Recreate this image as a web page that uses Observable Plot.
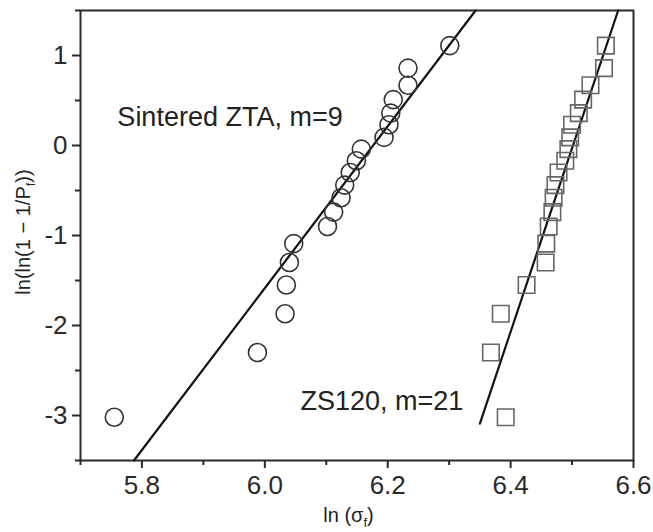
<!DOCTYPE html>
<html>
<head>
<meta charset="utf-8">
<script src="https://cdn.jsdelivr.net/npm/d3@7"></script>
<script src="https://cdn.jsdelivr.net/npm/@observablehq/plot@0.6"></script>
<style>
  html, body { margin: 0; padding: 0; background: #ffffff; }
  #chart svg { font-family: "Liberation Sans", Arial, sans-serif; }
</style>
</head>
<body>
<div id="chart"></div>
<script>
// Sintered ZTA (circles)
const ztaX = [5.755, 5.988, 6.033, 6.035, 6.040, 6.047, 6.102, 6.112, 6.124, 6.130, 6.139, 6.149, 6.157, 6.194, 6.202, 6.205, 6.209, 6.233, 6.233, 6.301];
const ztaY = [-3.02, -2.30, -1.87, -1.55, -1.30, -1.09, -0.90, -0.74, -0.58, -0.44, -0.30, -0.17, -0.04, 0.09, 0.23, 0.36, 0.51, 0.67, 0.86, 1.11];
// ZS120 (squares)
const zsX = [6.392, 6.368, 6.384, 6.426, 6.457, 6.458, 6.462, 6.468, 6.470, 6.473, 6.478, 6.489, 6.494, 6.497, 6.500, 6.511, 6.518, 6.530, 6.552, 6.555];
const zsY = [-3.02, -2.30, -1.87, -1.55, -1.30, -1.09, -0.90, -0.74, -0.58, -0.44, -0.30, -0.17, -0.04, 0.09, 0.23, 0.36, 0.51, 0.67, 0.86, 1.11];
// Weibull fit lines
const fitZtaX = [5.787, 6.343];
const fitZtaY = [-3.5, 1.5];
const fitZsX = [6.350, 6.575];
const fitZsY = [-3.09, 1.5];
// Annotations
const noteText = ["Sintered ZTA, m=9", "ZS120, m=21"];
const noteX = [5.760, 6.058];
const noteY = [0.31, -2.84];
// Ticks
const xMajor = [5.8, 6.0, 6.2, 6.4, 6.6];
const xMinor = [5.7, 5.9, 6.1, 6.3, 6.5];
const yMajor = [-3, -2, -1, 0, 1];
const yMinor = [-3.5, -2.5, -1.5, -0.5, 0.5, 1.5];

const zta = ztaX.map((x, i) => ({x, y: ztaY[i]}));
const zs = zsX.map((x, i) => ({x, y: zsY[i]}));
const fitA = fitZtaX.map((x, i) => ({x, y: fitZtaY[i]}));
const fitB = fitZsX.map((x, i) => ({x, y: fitZsY[i]}));
const notes = noteText.map((t, i) => ({t, x: noteX[i], y: noteY[i]}));

const ink = "#2a2a2a";
const svg = Plot.plot({
  width: 653,
  height: 532,
  marginLeft: 80,
  marginRight: 20,
  marginTop: 10,
  marginBottom: 72,
  style: {background: "#ffffff", color: ink, fontFamily: "Liberation Sans, Arial, sans-serif"},
  x: {domain: [5.7, 6.6]},
  y: {domain: [-3.5, 1.5]},
  marks: [
    Plot.axisX(xMajor, {tickSize: 8, tickPadding: 7, fontSize: 26, tickFormat: d3.format(".1f"), label: null, strokeWidth: 2}),
    Plot.axisX(xMinor, {tickSize: 5, tickFormat: () => "", label: null, strokeWidth: 2}),
    Plot.axisY(yMajor, {tickSize: 8, tickPadding: 5, fontSize: 26, tickFormat: d => String(d), label: null, strokeWidth: 2}),
    Plot.axisY(yMinor, {tickSize: 5, tickFormat: () => "", label: null, strokeWidth: 2}),
    Plot.frame({stroke: ink, strokeWidth: 2}),
    Plot.line(fitA, {x: "x", y: "y", stroke: "#111", strokeWidth: 2.2}),
    Plot.line(fitB, {x: "x", y: "y", stroke: "#111", strokeWidth: 2.2}),
    Plot.dot(zta, {x: "x", y: "y", r: 9, stroke: "#333", strokeWidth: 1.6, fill: "none"}),
    Plot.dot(zs, {x: "x", y: "y", r: 9.3, symbol: "square", stroke: "#666", strokeWidth: 1.6, fill: "none"}),
    Plot.text(notes, {x: "x", y: "y", text: "t", textAnchor: "start", fontSize: 27, fill: "#222"})
  ]
});

// Axis titles with subscript f
const sx = svg.scale("x"), sy = svg.scale("y");
const g = d3.select(svg).append("g")
  .attr("fill", "#222")
  .attr("font-family", "Liberation Sans, Arial, sans-serif")
  .attr("font-size", 20);
const xl = g.append("text")
  .attr("x", (sx.apply(5.7) + sx.apply(6.6)) / 2 - 8)
  .attr("y", 522)
  .attr("text-anchor", "middle");
xl.append("tspan").text("ln (σ");
xl.append("tspan").attr("font-size", 13).attr("dy", 5).text("f");
xl.append("tspan").attr("dy", -5).text(")");

const yc = (sy.apply(-3.5) + sy.apply(1.5)) / 2 - 3;
const yl = g.append("text")
  .attr("transform", `translate(30,${yc}) rotate(-90)`)
  .attr("text-anchor", "middle");
yl.append("tspan").text("ln(ln(1 \u2212 1/P");
yl.append("tspan").attr("font-size", 13).attr("dy", 5).text("f");
yl.append("tspan").attr("dy", -5).text("))");

document.getElementById("chart").appendChild(svg);
</script>
</body>
</html>
